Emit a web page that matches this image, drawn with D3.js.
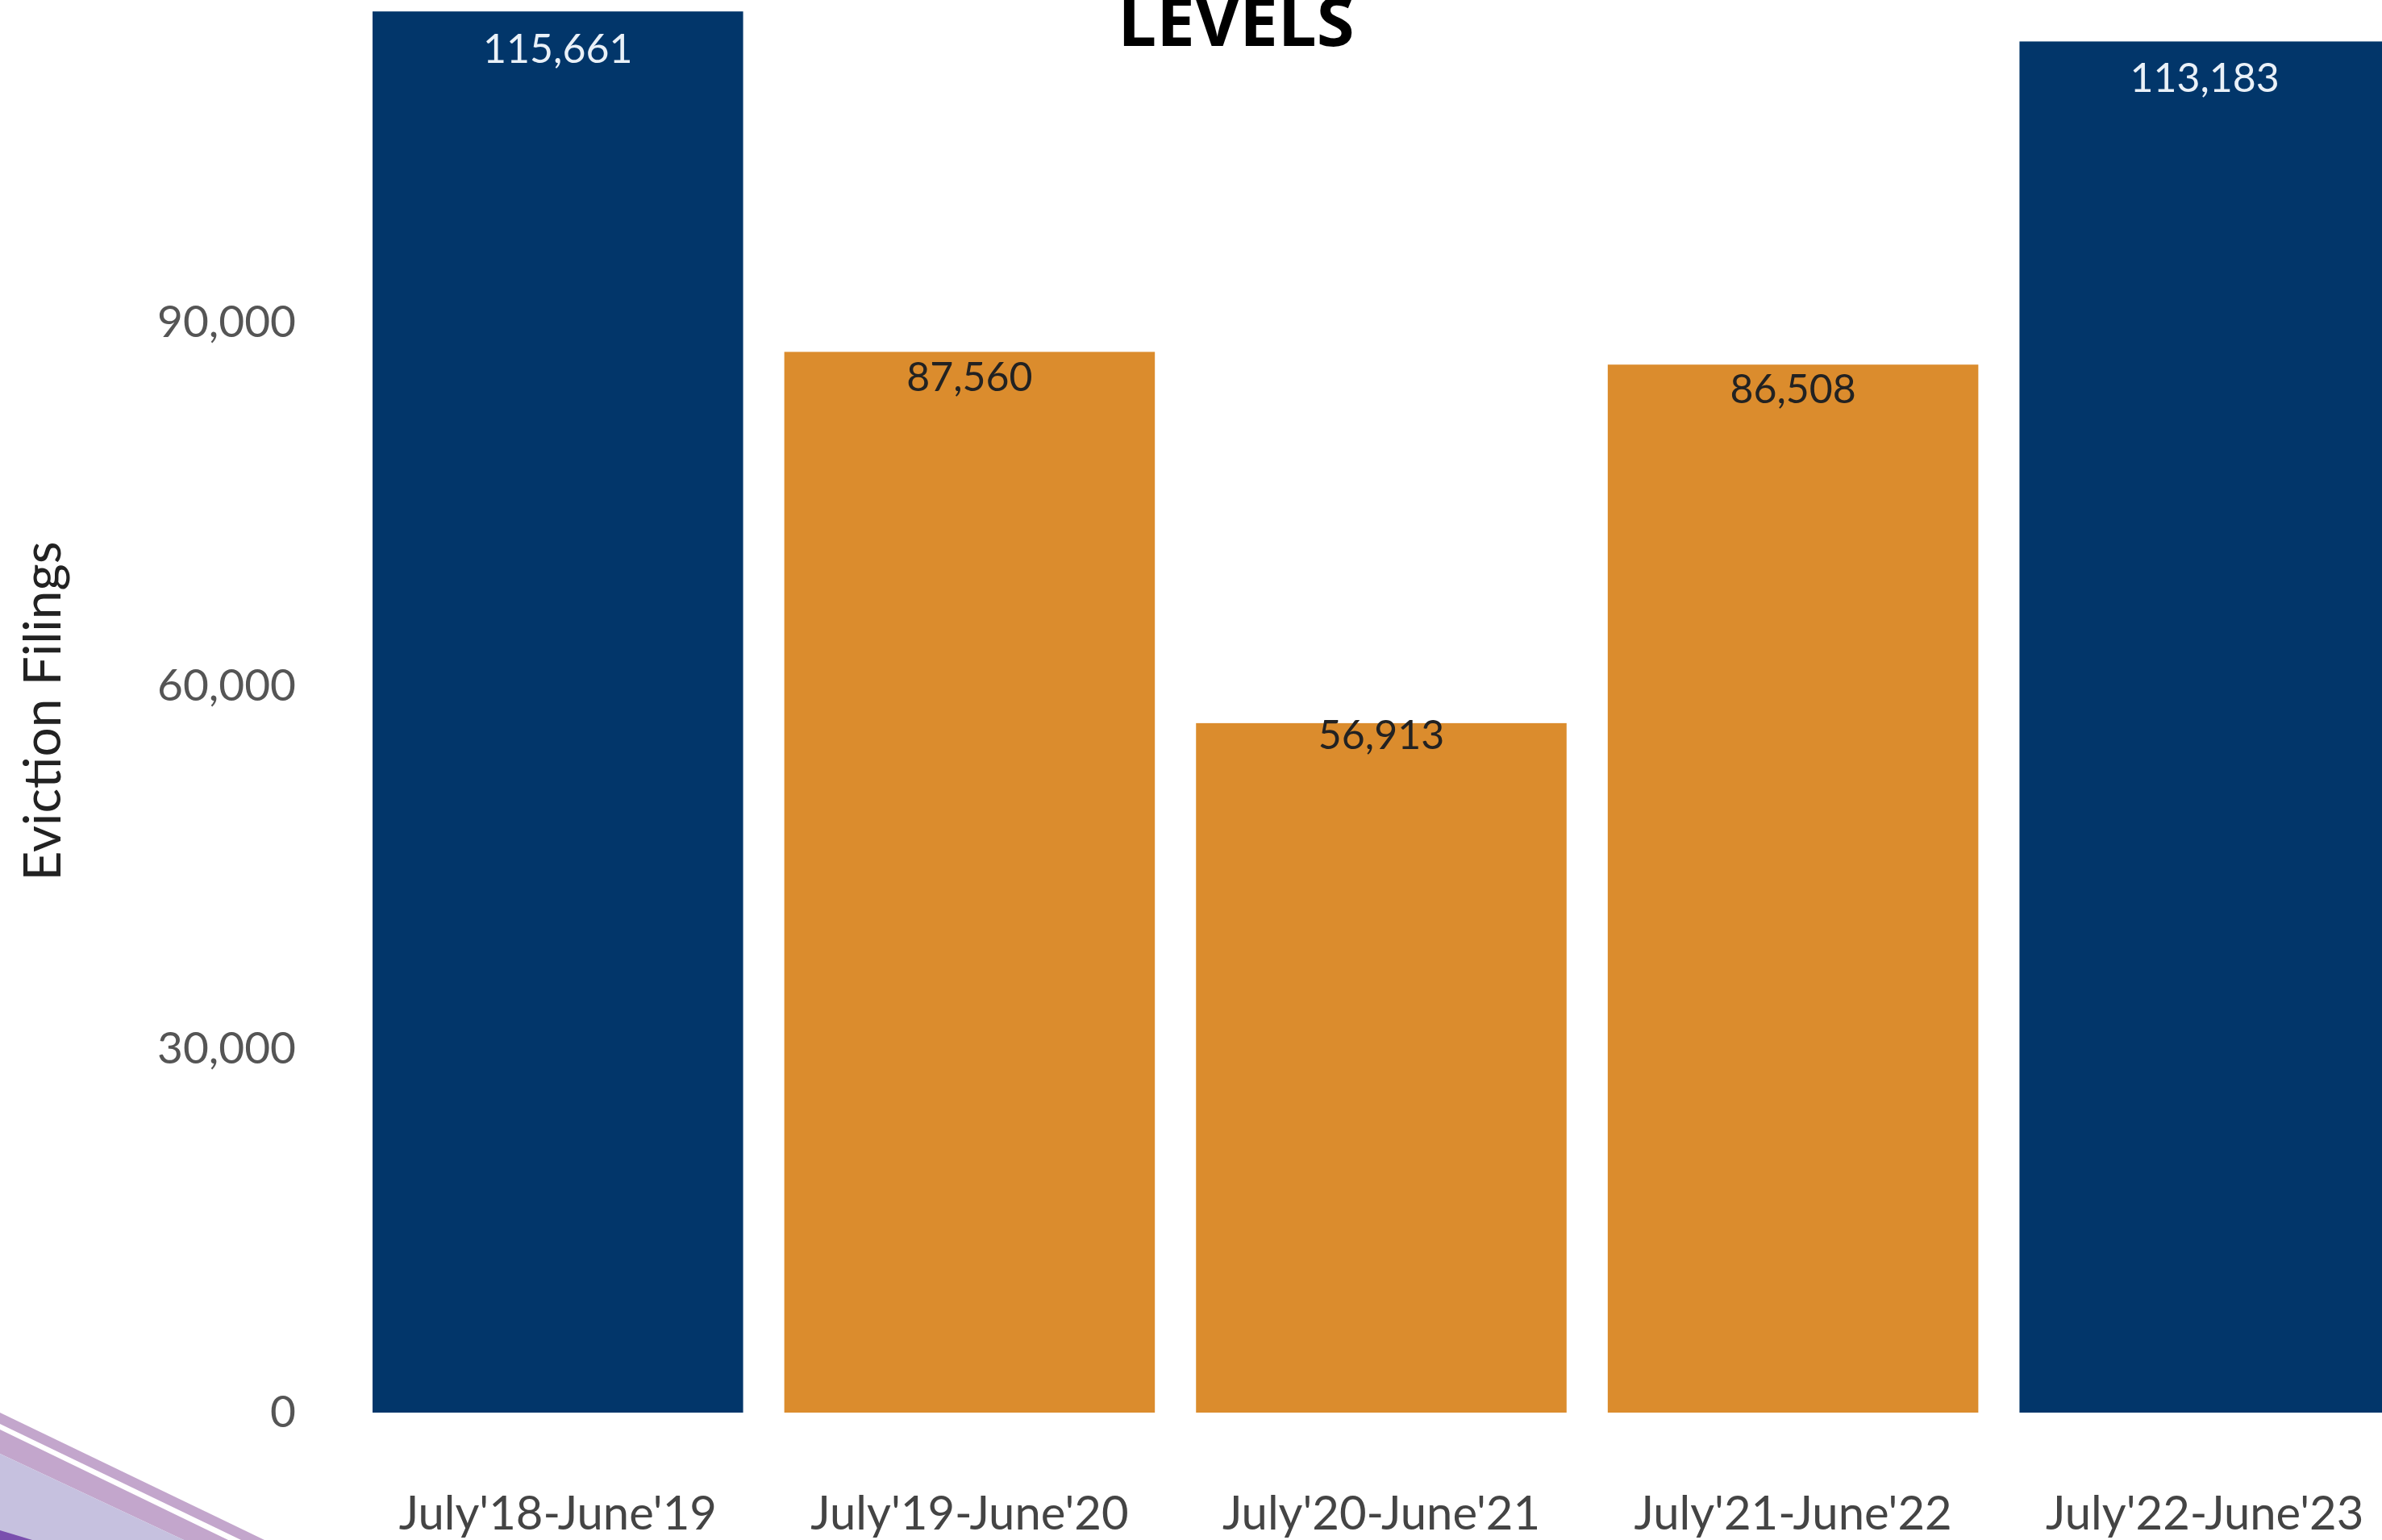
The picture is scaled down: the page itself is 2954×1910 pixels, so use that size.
<!DOCTYPE html>
<html>
<head>
<meta charset="utf-8">
<script src="https://cdn.jsdelivr.net/npm/d3@7"></script>
<style>
  html, body { margin: 0; padding: 0; background: #fff; }
  svg { display: block; }
</style>
</head>
<body>
<svg class="barplot"></svg>
<script>
// chart data
const periods = ["July'18-June'19", "July'19-June'20", "July'20-June'21", "July'21-June'22", "July'22-June'23"];
const filings = [115661, 87560, 56913, 86508, 113183];
const highlight = [true, false, false, false, true]; // navy bars vs orange bars
const yTicks = [0, 30000, 60000, 90000];
const yLabel = "Eviction Filings";
const title = "LEVELS";

const width = 2954, height = 1910;
const navy = "#02366a", orange = "#db8c2d";

const svg = d3.select(".barplot").attr("width", width).attr("height", height);

// decoration in the lower left corner
const deco = svg.append("g").attr("class", "deco");
const decoShapes = [
  { pts: [[0, 1752], [328, 1910], [299, 1910], [0, 1766]], fill: "#c3a6cc" },
  { pts: [[0, 1773], [283, 1910], [228, 1910], [0, 1803]], fill: "#c3a6cc" },
  { pts: [[0, 1803], [228, 1910], [0, 1910]], fill: "#c6c1df" },
  { pts: [[0, 1898], [40, 1910], [0, 1910]], fill: "#7a4fae" }
];
deco.selectAll("polygon").data(decoShapes).join("polygon")
  .attr("points", d => d.pts.map(p => p.join(",")).join(" "))
  .attr("fill", d => d.fill);

const x = d3.scaleBand().domain(periods).range([436.5, 2989.5]).paddingInner(0.1).paddingOuter(0.05);
const y = d3.scaleLinear().domain([0, 120000]).range([1752, -51]);

const data = periods.map((p, i) => ({ period: p, value: filings[i], hi: highlight[i] }));

const g = svg.append("g");

g.selectAll(".bar").data(data).join("rect")
  .attr("class", "bar")
  .attr("x", d => x(d.period))
  .attr("width", x.bandwidth())
  .attr("y", d => y(d.value))
  .attr("height", d => y(0) - y(d.value))
  .attr("fill", d => d.hi ? navy : orange);

g.selectAll(".barlabel").data(data).join("text")
  .attr("class", "barlabel")
  .attr("x", d => x(d.period) + x.bandwidth() / 2)
  .attr("y", d => y(d.value * 0.963))
  .attr("text-anchor", "middle")
  .attr("font-family", "Lato")
  .attr("font-size", 50)
  .attr("fill", d => d.hi ? "#eaf1f8" : "#222")
  .text(d => d3.format(",")(d.value));

// y axis, labels only
const yAxis = g.append("g").attr("class", "y axis")
  .attr("transform", "translate(367,0)")
  .call(d3.axisLeft(y).tickValues(yTicks).tickFormat(d3.format(",")).tickSize(0).tickPadding(0));
yAxis.select(".domain").remove();
yAxis.selectAll("text")
  .attr("font-family", "Lato")
  .attr("font-size", 55)
  .attr("fill", "#555");

// x axis, labels only
const xAxis = g.append("g").attr("class", "x axis")
  .attr("transform", "translate(0,1897)")
  .call(d3.axisBottom(x).tickSize(0).tickPadding(0));
xAxis.select(".domain").remove();
xAxis.selectAll("text")
  .attr("dy", 0)
  .attr("font-family", "Lato")
  .attr("font-size", 58)
  .attr("fill", "#444");

svg.append("text")
  .attr("transform", "translate(53,882) rotate(-90)")
  .attr("dy", "0.35em")
  .attr("text-anchor", "middle")
  .attr("font-family", "Lato")
  .attr("font-size", 64)
  .attr("fill", "#222")
  .text(yLabel);

svg.append("text")
  .attr("x", 1533)
  .attr("y", 57)
  .attr("text-anchor", "middle")
  .attr("font-family", "Open Sans")
  .attr("font-weight", 700)
  .attr("font-size", 85)
  .attr("fill", "#000")
  .text(title);
</script>
</body>
</html>
